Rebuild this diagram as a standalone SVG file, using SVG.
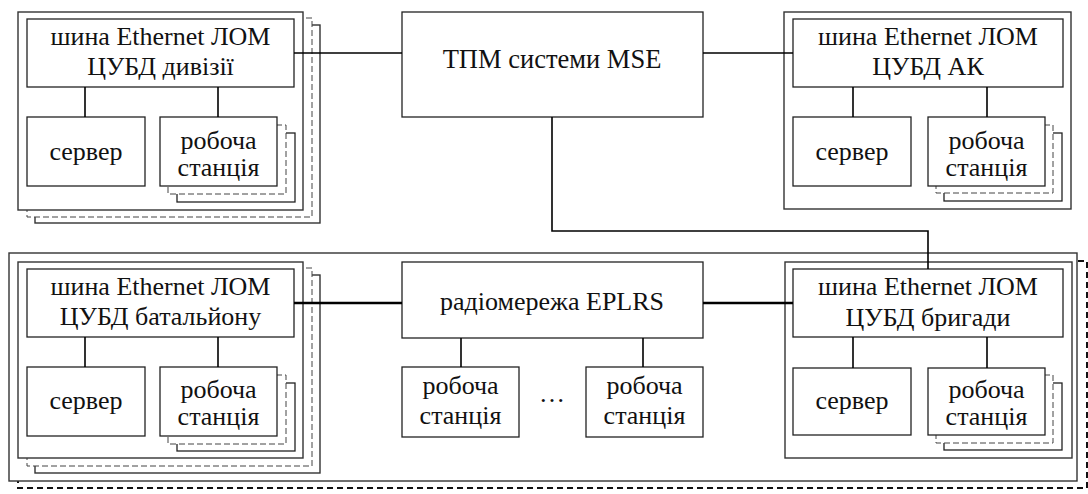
<svg xmlns="http://www.w3.org/2000/svg" width="1088" height="494" viewBox="0 0 1088 494">
  <style>
    text { font-family: "Liberation Serif", "Times New Roman", serif; fill: #111; text-anchor: middle; }
    .lbl { font-size: 26px; }
    .big { font-size: 26.5px; }
    .box { fill: #fff; stroke: #222; stroke-width: 1.3; }
    .frame { fill: #fff; stroke: #333; stroke-width: 1.4; }
    .stackd { fill: #fff; stroke: #444; stroke-width: 1; stroke-dasharray: 6 3; }
    .outerd { fill: none; stroke: #111; stroke-width: 2; stroke-dasharray: 6 4; }
    .link { fill: none; stroke: #000; stroke-width: 1.6; }
    .radio { fill: none; stroke: #000; stroke-width: 2.3; }
  </style>

  <!-- Brigade-level enclosure: dashed backing frame and solid frame -->
  <g id="brigade-enclosure">
    <rect class="outerd" x="18" y="261" width="1069" height="227"/>
    <rect class="frame" x="9" y="253" width="1068" height="228"/>
  </g>

  <!-- Division LAN (stacked, several instances) -->
  <g id="division">
    <rect class="frame" x="35" y="25" width="285" height="198"/>
    <rect class="stackd" x="27" y="18" width="285" height="199"/>
    <rect class="frame" x="18" y="12" width="285" height="198"/>
    <rect class="box" x="27" y="19" width="267" height="68"/>
    <text class="lbl" x="160.5" y="45">шина Ethernet ЛОМ</text>
    <text class="lbl" x="160.5" y="75">ЦУБД дивізії</text>
    <rect class="box" x="27" y="117" width="118" height="69"/>
    <text class="lbl" x="86" y="160">сервер</text>
    <rect class="box" x="177" y="133" width="118" height="69"/>
    <rect class="stackd" x="168" y="125" width="118" height="69"/>
    <rect class="box" x="160" y="117" width="117" height="69"/>
    <text class="lbl" x="218.5" y="149">робоча</text>
    <text class="lbl" x="218.5" y="176">станція</text>
  </g>

  <!-- MSE node -->
  <g id="mse">
    <rect class="box" x="402" y="12" width="301" height="105"/>
    <text class="big" x="552" y="68">ТПМ системи MSE</text>
  </g>

  <!-- Army corps LAN -->
  <g id="corps">
    <rect class="frame" x="784" y="12" width="287" height="197"/>
    <rect class="box" x="793" y="19" width="270" height="68"/>
    <text class="lbl" x="928" y="45">шина Ethernet ЛОМ</text>
    <text class="lbl" x="928" y="75">ЦУБД АК</text>
    <rect class="box" x="793" y="117" width="118" height="69"/>
    <text class="lbl" x="852" y="160">сервер</text>
    <rect class="box" x="944" y="133" width="118" height="68"/>
    <rect class="stackd" x="936" y="125" width="117" height="68"/>
    <rect class="box" x="928" y="117" width="117" height="69"/>
    <text class="lbl" x="986.5" y="149">робоча</text>
    <text class="lbl" x="986.5" y="176">станція</text>
  </g>

  <!-- Battalion LAN (stacked, several instances) -->
  <g id="battalion">
    <rect class="frame" x="35" y="275" width="285" height="198"/>
    <rect class="stackd" x="27" y="268" width="285" height="198"/>
    <rect class="frame" x="18" y="262" width="285" height="196"/>
    <rect class="box" x="27" y="269" width="267" height="68"/>
    <text class="lbl" x="160.5" y="295">шина Ethernet ЛОМ</text>
    <text class="lbl" x="160.5" y="325">ЦУБД батальйону</text>
    <rect class="box" x="27" y="367" width="118" height="69"/>
    <text class="lbl" x="86" y="409">сервер</text>
    <rect class="box" x="177" y="383" width="118" height="68"/>
    <rect class="stackd" x="168" y="375" width="118" height="69"/>
    <rect class="box" x="160" y="367" width="117" height="69"/>
    <text class="lbl" x="218.5" y="398">робоча</text>
    <text class="lbl" x="218.5" y="425">станція</text>
  </g>

  <!-- EPLRS radio network -->
  <g id="eplrs">
    <rect class="box" x="402" y="262" width="301" height="76"/>
    <text class="lbl" x="552" y="310">радіомережа EPLRS</text>
  </g>
  <g id="eplrs-ws1">
    <rect class="box" x="402" y="367" width="117" height="70"/>
    <text class="lbl" x="460.5" y="394">робоча</text>
    <text class="lbl" x="460.5" y="424">станція</text>
  </g>
  <text class="lbl" x="552" y="402">…</text>
  <g id="eplrs-ws2">
    <rect class="box" x="586" y="367" width="117" height="70"/>
    <text class="lbl" x="644.5" y="394">робоча</text>
    <text class="lbl" x="644.5" y="424">станція</text>
  </g>

  <!-- Brigade LAN -->
  <g id="brigade">
    <rect class="frame" x="785" y="262" width="287" height="196"/>
    <rect class="box" x="793" y="269" width="270" height="68"/>
    <text class="lbl" x="928" y="295">шина Ethernet ЛОМ</text>
    <text class="lbl" x="928" y="326">ЦУБД бригади</text>
    <rect class="box" x="793" y="368" width="118" height="67"/>
    <text class="lbl" x="852" y="409">сервер</text>
    <rect class="box" x="944" y="383" width="118" height="67"/>
    <rect class="stackd" x="936" y="375" width="117" height="68"/>
    <rect class="box" x="928" y="368" width="117" height="67"/>
    <text class="lbl" x="986.5" y="398">робоча</text>
    <text class="lbl" x="986.5" y="425">станція</text>
  </g>

  <!-- Connectors -->
  <g id="connectors">
    <path class="link" d="M294 53H402 M703 53H793 M552 117V231H928V269"/>
    <path class="link" d="M85 87V117 M218 87V117 M853 87V117 M987 87V117"/>
    <path class="link" d="M85 337V367 M218 337V367 M853 337V368 M987 337V368"/>
    <path class="link" d="M461 338V367 M643 338V367"/>
    <path class="radio" d="M294 303H402 M703 303H793"/>
  </g>
</svg>
